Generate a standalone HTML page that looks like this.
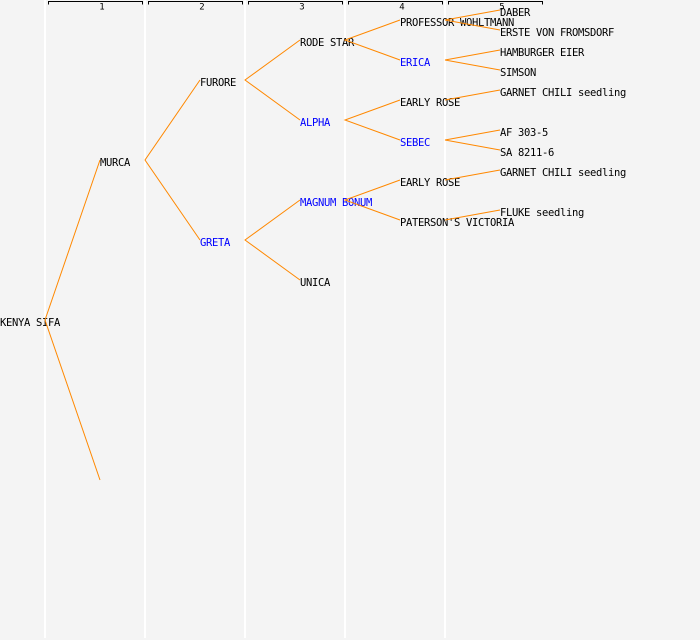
<!DOCTYPE html>
<html>
<head>
<meta charset="utf-8">
<style>
  html,body{margin:0;padding:0;background:#f4f4f4;}
  svg{display:block;}
  .t{font-family:"DejaVu Sans Mono","Liberation Mono",monospace;font-size:10.5px;letter-spacing:-0.32px;fill:#000;}
  .b{fill:#0000ff;}
  .h{font-family:"DejaVu Sans Mono","Liberation Mono",monospace;font-size:9px;fill:#000;}
  .e{stroke:#ff8800;stroke-width:1;fill:none;}
</style>
</head>
<body>
<svg width="700" height="640" viewBox="0 0 700 640" xmlns="http://www.w3.org/2000/svg">
  <rect x="0" y="0" width="700" height="640" fill="#f4f4f4"/>
  <!-- column separators -->
  <g fill="#ffffff" shape-rendering="crispEdges">
    <rect x="44" y="0" width="2" height="638"/>
    <rect x="144" y="0" width="2" height="638"/>
    <rect x="244" y="0" width="2" height="638"/>
    <rect x="344" y="0" width="2" height="638"/>
    <rect x="444" y="0" width="2" height="638"/>
  </g>
  <!-- headers -->
  <g stroke="#000" stroke-width="1" fill="none" shape-rendering="crispEdges">
    <path d="M48.5 4.5 V1.5 H142.5 V4.5"/>
    <path d="M148.5 4.5 V1.5 H242.5 V4.5"/>
    <path d="M248.5 4.5 V1.5 H342.5 V4.5"/>
    <path d="M348.5 4.5 V1.5 H442.5 V4.5"/>
    <path d="M448.5 4.5 V1.5 H542.5 V4.5"/>
  </g>
  <g class="h" text-anchor="middle">
    <text x="102" y="9.5">1</text>
    <text x="202" y="9.5">2</text>
    <text x="302" y="9.5">3</text>
    <text x="402" y="9.5">4</text>
    <text x="502" y="9.5">5</text>
  </g>
  <!-- labels -->
  <g class="t">
    <text x="0" y="326">KENYA SIFA</text>
    <text x="100" y="166">MURCA</text>
    <text x="200" y="86">FURORE</text>
    <text x="200" y="246" class="t b">GRETA</text>
    <text x="300" y="46">RODE STAR</text>
    <text x="300" y="126" class="t b">ALPHA</text>
    <text x="300" y="206" class="t b">MAGNUM BONUM</text>
    <text x="300" y="286">UNICA</text>
    <text x="400" y="26">PROFESSOR WOHLTMANN</text>
    <text x="400" y="66" class="t b">ERICA</text>
    <text x="400" y="106">EARLY ROSE</text>
    <text x="400" y="146" class="t b">SEBEC</text>
    <text x="400" y="186">EARLY ROSE</text>
    <text x="400" y="226">PATERSON'S VICTORIA</text>
    <text x="500" y="16">DABER</text>
    <text x="500" y="36">ERSTE VON FROMSDORF</text>
    <text x="500" y="56">HAMBURGER EIER</text>
    <text x="500" y="76">SIMSON</text>
    <text x="500" y="96">GARNET CHILI seedling</text>
    <text x="500" y="136">AF 303-5</text>
    <text x="500" y="156">SA 8211-6</text>
    <text x="500" y="176">GARNET CHILI seedling</text>
    <text x="500" y="216">FLUKE seedling</text>
  </g>
  <!-- edges -->
  <g class="e">
    <path d="M100 160 L45 320 L100 480"/>
    <path d="M200 80 L145 160 L200 240"/>
    <path d="M300 40 L245 80 L300 120"/>
    <path d="M300 200 L245 240 L300 280"/>
    <path d="M400 20 L345 40 L400 60"/>
    <path d="M400 100 L345 120 L400 140"/>
    <path d="M400 180 L345 200 L400 220"/>
    <path d="M500 10 L445 20 L500 30"/>
    <path d="M500 50 L445 60 L500 70"/>
    <path d="M445 100 L500 90"/>
    <path d="M500 130 L445 140 L500 150"/>
    <path d="M445 180 L500 170"/>
    <path d="M445 220 L500 210"/>
  </g>
</svg>
</body>
</html>
